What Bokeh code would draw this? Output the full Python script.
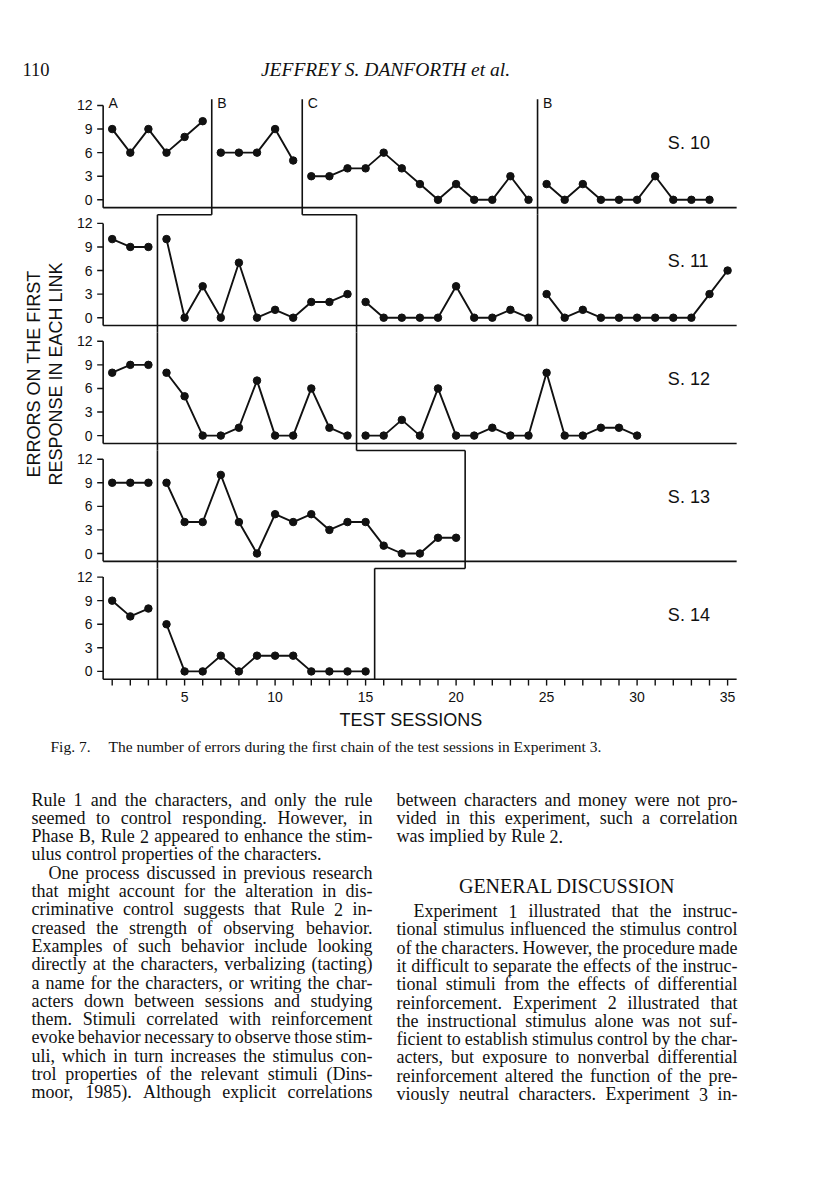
import numpy as np
from bokeh.plotting import figure
from bokeh.models import Range1d
from bokeh.core.properties import value
from bokeh.embed import file_html
from bokeh.resources import INLINE

# ---------------- data ----------------
subjects = ["S. 10", "S. 11", "S. 12", "S. 13", "S. 14"]
s10_errors = [9, 6, 9, 6, 8, 10, 6, 6, 6, 9, 5, 3, 3, 4, 4, 6, 4, 2, 0, 2, 0, 0, 3, 0,
              2, 0, 2, 0, 0, 0, 3, 0, 0, 0]
s11_errors = [10, 9, 9, 10, 0, 4, 0, 7, 0, 1, 0, 2, 2, 3, 2, 0, 0, 0, 0, 4, 0, 0, 1, 0,
              3, 0, 1, 0, 0, 0, 0, 0, 0, 3, 6]
s12_errors = [8, 9, 9, 8, 5, 0, 0, 1, 7, 0, 0, 6, 1, 0, 0, 0, 2, 0, 6, 0, 0, 1, 0, 0,
              8, 0, 0, 1, 1, 0]
s13_errors = [9, 9, 9, 9, 4, 4, 10, 4, 0, 5, 4, 5, 3, 4, 4, 1, 0, 0, 2, 2]
s14_errors = [9, 7, 8, 6, 0, 0, 2, 0, 2, 2, 2, 0, 0, 0, 0]
all_errors = [s10_errors, s11_errors, s12_errors, s13_errors, s14_errors]
# phase changes (between sessions)
s10_changes = [6.5, 11.5, 24.5]
s11_changes = [3.5, 14.5, 24.5]
s12_changes = [3.5, 14.5]
s13_changes = [3.5, 20.5]
s14_changes = [3.5, 15.5]
all_changes = [s10_changes, s11_changes, s12_changes, s13_changes, s14_changes]
phase_labels = ["A", "B", "C", "B"]
y_ticks = [0, 3, 6, 9, 12]
x_tick_sessions = list(range(1, 36))
x_tick_labels = [5, 10, 15, 20, 25, 30, 35]

# ---------------- layout constants (page pixels) ----------------
W, H = 800, 1177
OFF = 0                           # page offset of the canvas
X_S0, X_PER = 93.6, 18.1          # page x of session 0, px per session
Y0_FIRST, PITCH, Y_PER = 199.3, 117.9, 7.86
AXIS_S, AXIS_END = 0.5, 35.5
SERIF, SANS = "Liberation Serif", "Liberation Sans"

p = figure(width=W, height=H, x_range=Range1d(OFF, W + OFF), y_range=Range1d(H + OFF, OFF),
           output_backend="svg", toolbar_location=None, x_axis_location=None,
           y_axis_location=None, min_border=0, outline_line_color=None)
for g in p.grid:
    g.visible = False

p.extra_x_ranges = {"sess": Range1d((OFF - X_S0) / X_PER, (W + OFF - X_S0) / X_PER)}
yr = {}
for k in range(5):
    y0 = Y0_FIRST + k * PITCH
    yr[f"p{k}"] = Range1d((y0 - (H + OFF)) / Y_PER, (y0 - OFF) / Y_PER)
p.extra_y_ranges = yr

INK = "#111111"
TICK_FS = "14px"
for k, (errs, changes) in enumerate(zip(all_errors, all_changes)):
    rn = dict(x_range_name="sess", y_range_name=f"p{k}")
    sess = list(range(1, len(errs) + 1))
    # split lines at phase changes
    bounds = [0] + list(changes) + [100]
    xs, ys = [], []
    for a, b in zip(bounds[:-1], bounds[1:]):
        seg = [(s, e) for s, e in zip(sess, errs) if a < s < b]
        if seg:
            xs.append([s for s, _ in seg]); ys.append([e for _, e in seg])
    p.multi_line(xs, ys, line_color=INK, line_width=1.9, **rn)
    p.scatter(sess, errs, size=7.5, color=INK, **rn)

    # axes
    p.segment([AXIS_S], [12], [AXIS_S], [-1], line_color=INK, line_width=1.6, **rn)
    p.segment([AXIS_S], [-1], [AXIS_END], [-1], line_color=INK, line_width=1.6, **rn)
    p.segment([AXIS_S] * 5, y_ticks, [AXIS_S - 0.33] * 5, y_ticks, line_color=INK,
              line_width=1.4, **rn)
    p.text([-0.08] * 5, y_ticks, text=[str(t) for t in y_ticks], text_align="right",
           text_baseline="middle", text_font=value(SANS), text_font_size=value(TICK_FS),
           text_color=INK, **rn)
    p.text([31.7], [7.2], text=[subjects[k]], text_align="left", text_baseline="middle",
           text_font=value(SANS), text_font_size=value("18px"), text_color=INK, **rn)

    # phase change lines (staircase)
    nxt = all_changes[k + 1] if k < 4 else []
    x0, y0, x1, y1 = [], [], [], []
    for j, c in enumerate(changes):
        top = 12.8 if k == 0 else 15 - 1.9
        if j < len(nxt):
            bot = -1.9
            if nxt[j] != c:
                x0.append(c); y0.append(bot); x1.append(nxt[j]); y1.append(bot)
        else:
            bot = -1
        x0.append(c); y0.append(top); x1.append(c); y1.append(bot)
    p.segment(x0, y0, x1, y1, line_color=INK, line_width=1.6, **rn)

    if k == 0:
        lab_x = [AXIS_S] + list(changes)
        p.text([x + 0.3 for x in lab_x], [12.3] * len(lab_x), text=phase_labels,
               text_align="left", text_baseline="middle", text_font=value(SANS),
               text_font_size=value("14px"), text_color=INK, **rn)
    if k == 4:
        p.segment(x_tick_sessions, [-1] * 35, x_tick_sessions, [-1.8] * 35,
                  line_color=INK, line_width=1.4, **rn)
        p.text(x_tick_labels, [-3.3] * len(x_tick_labels), text=[str(t) for t in x_tick_labels],
               text_align="center", text_baseline="middle", text_font=value(SANS),
               text_font_size=value(TICK_FS), text_color=INK, **rn)

# axis titles
p.text([413 - OFF], [719 - OFF], text=["TEST  SESSIONS"], text_align="center",
       text_baseline="middle", text_font=value(SANS), text_font_size=value("18px"),
       text_color=INK)
p.text([33 - OFF, 55 - OFF], [366 - OFF] * 2,
       text=["ERRORS  ON  THE  FIRST", "RESPONSE  IN  EACH  LINK"],
       angle=np.pi / 2, text_align="center", text_baseline="middle",
       text_font=value(SANS), text_font_size=value("18px"), text_color=INK)

# ---------------- page text ----------------
TIMES = dict(zip(" !\"#$%&'()*+,-./0123456789:;<=>?@",
                 [250, 333, 408, 500, 500, 833, 778, 333, 333, 333, 500, 564, 250, 333, 250, 278]
                 + [500] * 10 + [278, 278, 564, 564, 564, 444, 921]))
TIMES.update(dict(zip("ABCDEFGHIJKLMNOPQRSTUVWXYZ",
                      [722, 667, 667, 722, 611, 556, 722, 722, 333, 389, 722, 611, 889, 722, 722,
                       556, 722, 667, 556, 611, 722, 722, 944, 722, 722, 611])))
TIMES.update(dict(zip("abcdefghijklmnopqrstuvwxyz",
                      [444, 500, 444, 500, 444, 333, 500, 500, 278, 278, 500, 278, 778, 500, 500,
                       500, 500, 333, 389, 278, 500, 500, 722, 500, 500, 444])))


def tw(s, size):
    return sum(TIMES.get(ch, 500) for ch in s) * size / 1000.0


left_lines = [
    ("Rule 1 and the characters, and only the rule", 0, True),
    ("seemed to control responding. However, in", 0, True),
    ("Phase B, Rule 2 appeared to enhance the stim-", 0, True),
    ("ulus control properties of the characters.", 0, False),
    ("One process discussed in previous research", 1, True),
    ("that might account for the alteration in dis-", 0, True),
    ("criminative control suggests that Rule 2 in-", 0, True),
    ("creased the strength of observing behavior.", 0, True),
    ("Examples of such behavior include looking", 0, True),
    ("directly at the characters, verbalizing (tacting)", 0, True),
    ("a name for the characters, or writing the char-", 0, True),
    ("acters down between sessions and studying", 0, True),
    ("them. Stimuli correlated with reinforcement", 0, True),
    ("evoke behavior necessary to observe those stim-", 0, True),
    ("uli, which in turn increases the stimulus con-", 0, True),
    ("trol properties of the relevant stimuli (Dins-", 0, True),
    ("moor, 1985). Although explicit correlations", 0, True),
]
right_lines_a = [
    ("between characters and money were not pro-", 0, True),
    ("vided in this experiment, such a correlation", 0, True),
    ("was implied by Rule 2.", 0, False),
]
heading = "GENERAL DISCUSSION"
right_lines_b = [
    ("Experiment 1 illustrated that the instruc-", 1, True),
    ("tional stimulus influenced the stimulus control", 0, True),
    ("of the characters. However, the procedure made", 0, True),
    ("it difficult to separate the effects of the instruc-", 0, True),
    ("tional stimuli from the effects of differential", 0, True),
    ("reinforcement. Experiment 2 illustrated that", 0, True),
    ("the instructional stimulus alone was not suf-", 0, True),
    ("ficient to establish stimulus control by the char-", 0, True),
    ("acters, but exposure to nonverbal differential", 0, True),
    ("reinforcement altered the function of the pre-", 0, True),
    ("viously neutral characters. Experiment 3 in-", 0, True),
]

BODY = 18
COL_W, INDENT, LEAD = 341, 17, 18.3
LX, RX = 31 - OFF, 396 - OFF
lx, ly, lt, rxs, rys, rts = [], [], [], [], [], []


def set_lines(lines, x_left, y_first):
    for i, (txt, ind, just) in enumerate(lines):
        y = y_first + i * LEAD
        xl = x_left + ind * INDENT
        words = txt.split()
        ws = [tw(w, BODY) for w in words]
        if just and len(words) > 1:
            gap = (x_left + COL_W - xl - sum(ws)) / (len(words) - 1)
            x = xl
            for w, wd in zip(words[:-1], ws[:-1]):
                lx.append(x); ly.append(y); lt.append(w); x += wd + gap
            rxs.append(x_left + COL_W); rys.append(y); rts.append(words[-1])
        else:
            x = xl
            for w, wd in zip(words, ws):
                lx.append(x); ly.append(y); lt.append(w); x += wd + 0.25 * BODY


set_lines(left_lines, LX, 799 - OFF)
set_lines(right_lines_a, RX, 799 - OFF)
set_lines(right_lines_b, RX, 910.5 - OFF)

body_style = dict(text_font=value(SERIF), text_font_size=value(f"{BODY}px"),
                  text_baseline="alphabetic", text_color=INK)
p.text(lx, ly, text=lt, text_align="left", **body_style)
p.text(rxs, rys, text=rts, text_align="right", **body_style)
p.text([RX + COL_W / 2], [885.5 - OFF], text=[heading], text_align="center",
       text_baseline="alphabetic", text_font=value(SERIF), text_font_size=value("20px"),
       text_color=INK)

# header
p.text([22 - OFF], [69 - OFF], text=["110"], text_align="left", text_baseline="alphabetic",
       text_font=value(SERIF), text_font_size=value("18.5px"), text_color=INK)
p.text([385 - OFF], [69 - OFF], text=["JEFFREY S. DANFORTH et al."], text_align="center",
       text_baseline="alphabetic", text_font=value(SERIF), text_font_style="italic",
       text_font_size=value("19.5px"), text_color=INK)

# caption
p.text([50 - OFF], [746 - OFF], text=["Fig. 7."], text_align="left", text_baseline="alphabetic",
       text_font=value(SERIF), text_font_size=value("15.5px"), text_color=INK)
p.text([108 - OFF], [746 - OFF],
       text=["The number of errors during the first chain of the test sessions in Experiment 3."],
       text_align="left", text_baseline="alphabetic", text_font=value(SERIF),
       text_font_size=value("15.5px"), text_color=INK)

open("out.html", "w").write(file_html(p, INLINE))
